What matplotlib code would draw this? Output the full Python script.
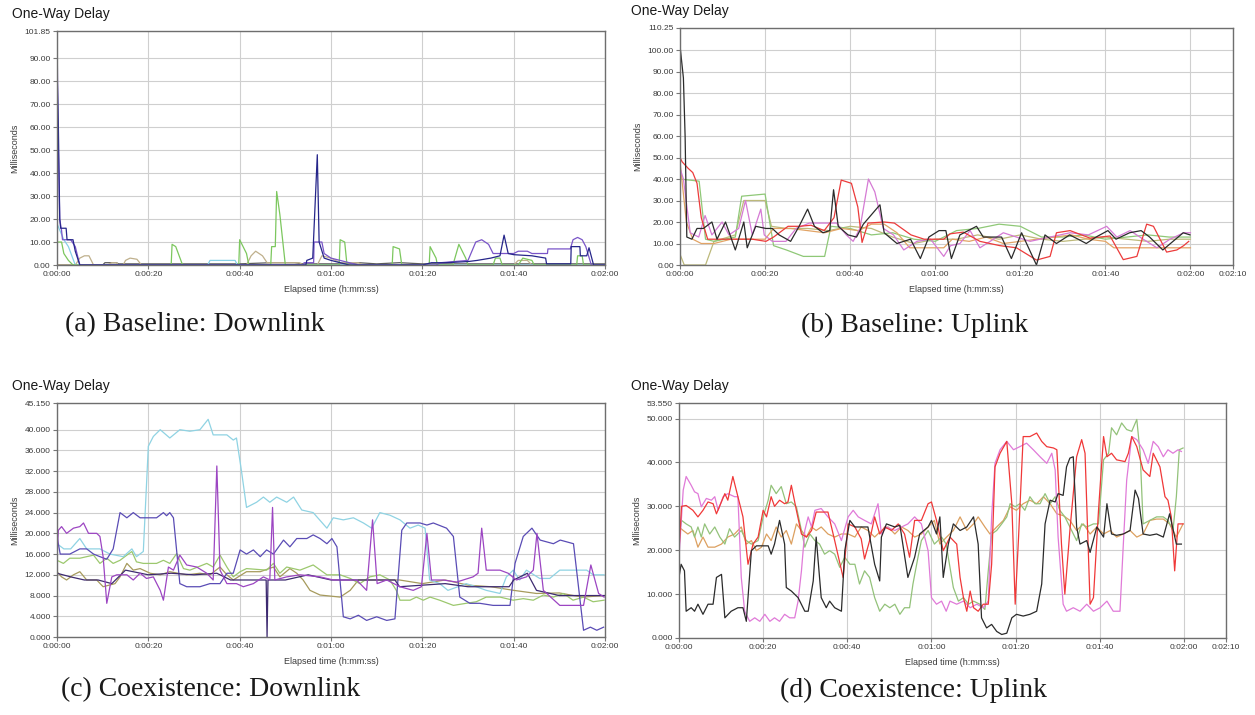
import numpy as np
import matplotlib.pyplot as plt
from matplotlib.ticker import FuncFormatter

plt.rcParams['font.family'] = ['Liberation Sans', 'DejaVu Sans']

# ---- (a) Baseline: Downlink, (time s, delay ms) ----
a_gray = [(0, 0), (10, 0), (10.5, 1), (13, 1), (13.5, 0.5), (40, 0.5), (47, 1), (52, 1),
          (54, 0.5), (64, 0.5), (66, 1), (70, 0.5), (75, 1), (80, 0.5), (120, 0.5)]
a_tan = [(0, 0), (4, 0), (5, 3), (6, 4), (7, 4), (8, 0), (11, 0), (12, 1), (13, 1), (13.5, 0),
         (14.5, 0), (15, 2), (16, 3), (17.5, 2.5), (18.5, 0), (41.5, 0), (42.5, 4), (43.5, 6),
         (45, 4), (46, 1), (53, 1), (54, 0), (57, 0), (58, 4), (60, 3), (62, 1), (66, 1),
         (67, 0), (100, 0), (101, 2), (103, 2), (104, 0), (120, 0)]
a_cyan = [(0, 18), (1.5, 11), (2.5, 8), (4, 0), (33, 0), (33.5, 2), (39, 2), (39.5, 0), (120, 0)]
a_green = [(0, 10), (1, 10), (1.5, 5), (2.5, 2), (3.5, 0), (25, 0), (25.2, 9), (26, 8),
           (27.5, 0), (39.8, 0), (40, 11), (41.5, 5), (42, 0), (46.8, 0), (47, 8), (47.8, 8),
           (48.1, 32), (48.8, 22), (50, 0), (61.8, 0), (62, 11), (63, 10), (63.5, 0),
           (73.4, 0), (73.6, 8), (75, 7), (75.5, 0), (81.5, 0), (81.7, 8), (83, 3), (83.3, 0),
           (86.7, 0), (88, 9), (89.5, 3), (90, 0), (95.5, 0), (96, 3), (97, 3), (97.5, 0),
           (101, 0), (102, 3), (104, 2), (104.5, 0), (113.8, 0), (114, 4), (115, 4),
           (115.3, 0), (120, 0)]
a_purple = [(0, 101), (0.3, 50), (0.6, 20), (1, 15), (1.2, 11), (3, 11), (4, 8), (5, 0),
            (54, 0), (54.1, 1), (56.2, 1), (56.3, 10), (58, 10), (58.5, 5), (60, 3), (62, 2),
            (64, 1), (66, 0), (83, 0), (84, 1), (90, 2), (91.7, 10), (93, 11), (94.5, 9),
            (95.5, 5), (100, 5), (101, 6), (103, 6), (104, 5), (107.4, 5), (107.5, 7),
            (112.4, 7), (113, 11), (114, 12), (115, 11), (115.8, 8), (117, 0), (120, 0)]
a_navy = [(0, 87), (0.3, 60), (0.6, 20), (0.8, 16), (2, 16), (2.2, 11), (3.5, 11), (4, 6),
          (5, 0), (54.5, 0), (54.7, 2), (56, 3), (57, 48), (57.4, 10), (58.5, 3), (60, 2),
          (62, 1), (64, 0), (80, 0), (82, 1), (85, 1), (90, 1.5), (92, 2), (95, 3), (97, 4),
          (97.9, 13), (98.8, 5), (100, 4.5), (104, 4), (107, 3), (107.2, 0.5), (112.5, 0.5),
          (112.6, 8), (114.5, 8), (114.6, 4), (116, 4), (116.5, 7.5), (117.5, 0), (120, 0)]

# ---- (b) Baseline: Uplink ----
b_khaki = [(0, 5), (1, 0), (6, 0), (8, 11), (13, 14), (15, 30), (20, 30), (21.5, 18),
           (25, 17), (30, 17), (35, 16), (40, 18), (45, 17), (50, 13), (55, 10), (60, 12),
           (65, 12), (70, 14), (75, 12), (80, 14), (85, 12), (90, 11), (95, 12), (100, 13),
           (105, 12), (110, 11), (115, 12), (120, 12)]
b_green = [(0, 40), (4.5, 39), (6, 12), (8, 11), (13, 13), (14.5, 32), (20, 33), (22, 9),
           (25, 7), (29, 4), (34, 4), (35.5, 18), (40, 17), (45, 14), (50, 15), (55, 12),
           (60, 11), (65, 16), (70, 17), (75, 19), (80, 18), (85, 13), (90, 13), (95, 14),
           (100, 12), (105, 13), (110, 14), (115, 13), (120, 13)]
b_orange = [(0, 48), (1.5, 20), (3, 12), (5, 10), (8, 10), (12, 12), (16, 12), (20, 12),
            (22, 17), (26, 17), (30, 16), (34, 15), (38, 17), (42, 16), (45, 19), (48, 19),
            (51, 15), (54, 8), (58, 8), (62, 8), (64, 12), (68, 11), (72, 13), (76, 10),
            (80, 11), (84, 12), (88, 13), (92, 14), (96, 12), (100, 11), (102, 8), (110, 8),
            (114, 8), (118, 8), (120, 8)]
b_pink = [(0, 45), (0.8, 40), (2.4, 15), (4.4, 13), (5.9, 23), (7.5, 14), (9.9, 20),
          (11.5, 14), (13.8, 17), (15.4, 30), (17, 14), (19, 26), (19.8, 14), (21.7, 11),
          (24.9, 11), (27.3, 17), (30.4, 19.5), (33.6, 19.5), (36.8, 19.5), (39.1, 14),
          (40.7, 11), (42.3, 17), (44.3, 40), (45.8, 34), (47.8, 17), (50.2, 14), (52.6, 7),
          (55.7, 11), (58.9, 12), (62, 4), (63.6, 9), (65.8, 10), (68.2, 16), (70.5, 8),
          (72.9, 11), (76, 15), (79.1, 13), (82.3, 11), (87, 13), (91.7, 15), (96, 14),
          (100.3, 18), (102.7, 13), (105.8, 16), (108.9, 12), (112.1, 8), (115.2, 12),
          (118.4, 15), (120, 15)]
b_red = [(0, 50), (0.5, 48), (1.9, 45), (3, 43), (4, 38), (5, 22), (6.5, 12), (9.6, 12),
         (13, 12), (17, 12), (20.2, 11), (22, 13), (25.4, 18), (28, 18), (30.8, 18.5),
         (33.9, 16), (36.2, 22), (37.9, 39.5), (40.3, 38), (41.8, 27), (42.8, 10.5),
         (44.2, 19.5), (48, 20), (50.4, 19.5), (54.3, 14), (57.4, 12), (62, 12), (63.5, 14.5),
         (66.6, 15.3), (70.5, 11), (75.2, 9), (79.1, 8), (83.8, 2.3), (87, 4), (88.5, 15),
         (91.7, 16), (96.4, 12.5), (101.1, 13.5), (104.2, 2.5), (107.4, 4), (109.7, 19),
         (111.3, 18), (114.4, 6), (116.8, 7), (118.4, 9), (119.6, 11)]
b_black = [(0, 102), (0.8, 87), (1.2, 60), (1.6, 13), (2.8, 12), (4, 17), (5.5, 17),
           (7.5, 20), (8.7, 12), (10.7, 20), (13, 7), (15, 20), (15.8, 8), (17.8, 18),
           (20.2, 17), (21.7, 17), (23.3, 14), (26, 11), (28, 18), (30, 26), (31.6, 18),
           (33.6, 15), (35.2, 16), (36.1, 35), (37.2, 18), (39.5, 14), (41.5, 13), (43.1, 19),
           (47, 28), (48, 15), (51, 10), (54.2, 12), (56.5, 3), (58.5, 13), (60.9, 16),
           (62.5, 16), (63.8, 3), (65.8, 14), (69.7, 18), (71.3, 13), (75.6, 13), (77.9, 3),
           (80.3, 15), (83.8, 0), (85.8, 14), (88.5, 10), (91.6, 14), (93.6, 12), (95.5, 10),
           (97.8, 13), (100.6, 16), (102.5, 12), (105.7, 15), (108.4, 16), (110.4, 13),
           (113.5, 7), (118.3, 15), (119.9, 14)]

# ---- (c) Coexistence: Downlink ----
c_olive = [(0, 12.6), (1, 11.6), (2.1, 11), (3.6, 12), (5, 12.6), (6.5, 11), (8.7, 11),
           (10.1, 9.7), (12.7, 10.3), (13.8, 11.6), (15.3, 14.2), (16.7, 12.9), (18.2, 13.2),
           (20.4, 12.3), (22.6, 12), (24.7, 12.6), (28.4, 12), (31.3, 12.3), (33.5, 12),
           (35.7, 13.5), (37.2, 12), (38.6, 11), (41.5, 12.6), (44.5, 12.6), (47.4, 13.5),
           (48.8, 11.6), (51, 13.2), (52.5, 12.3), (53.9, 11), (55.4, 9), (57.6, 8.1),
           (62, 7.7), (64.2, 9), (66, 11), (70, 11), (75, 11), (80, 10.3), (85, 11),
           (90, 10), (95, 9.7), (100, 9), (105, 8.4), (110, 8.5), (115, 7.7), (120, 8)]
c_green = [(0, 14.8), (1.4, 14.2), (2.8, 15.2), (5, 15.2), (6.5, 15.5), (8, 15.8),
           (9.4, 14.2), (10.9, 15.2), (12.3, 14.2), (13.8, 14.8), (15.3, 15.8), (16.4, 16.5),
           (17.4, 14.5), (18.9, 14.2), (21.8, 14.2), (23.3, 14.8), (24.7, 14.2), (26.2, 16.1),
           (27.7, 13.2), (29.1, 12.9), (32.8, 14.2), (34.2, 13.5), (35.7, 15.8), (37.2, 13.5),
           (38.6, 11.6), (40.1, 12.6), (41.5, 13.2), (45.9, 12.9), (47.4, 14.2), (48.8, 12.3),
           (50.3, 13.5), (53.2, 12.9), (56.1, 13.9), (59.1, 12), (62, 12), (64.2, 11.3),
           (66.3, 10.3), (68.5, 11.6), (70.7, 12), (72.9, 11), (74.3, 9), (75.1, 7.1),
           (77.3, 7.1), (78.7, 7.7), (80.2, 7.1), (81.7, 7.7), (83.8, 7.1), (86.8, 6.1),
           (89.6, 6.5), (91.8, 6.8), (94, 7.7), (97, 7.7), (99.9, 7.1), (102.1, 7.4),
           (104.3, 7.1), (106.5, 8.1), (108.7, 7.7), (110.9, 8.4), (113, 7.1), (115.3, 7.7),
           (117.4, 6.8), (119.8, 7.1)]
c_cyan = [(0, 18), (1.5, 17), (3, 17), (5, 19), (6.5, 17), (9.4, 17), (11.6, 16),
          (14.5, 15.5), (16.4, 17), (17.4, 15.5), (18.9, 16.5), (20, 36.8), (21.1, 38.7),
          (22.6, 40), (24.7, 38.4), (26.9, 40), (29.1, 39.7), (31.3, 40), (33.1, 42),
          (34.2, 39), (37.2, 39), (38.6, 38), (39.3, 38.4), (40.4, 32), (41.5, 25),
          (43.7, 26), (45.2, 27), (46.6, 26), (48.1, 27), (50.3, 26), (51.8, 27),
          (53.6, 24.5), (56.1, 24), (59.1, 21), (60.5, 23), (62.7, 22.6), (64.9, 23),
          (67.1, 22), (68.9, 21), (70.7, 24), (72.9, 23.5), (75.1, 22.6), (77.3, 21),
          (79.1, 21.6), (80.6, 21), (81.6, 11), (83.8, 10.3), (85.6, 9), (87.8, 9.7),
          (89.6, 10.3), (91.8, 9.7), (94, 9), (97, 8.4), (98.4, 11.6), (99.9, 12.9),
          (101.3, 11), (102.8, 12.9), (105.7, 11.3), (107.9, 11.3), (110.1, 12.9),
          (113, 12.9), (116, 12.9), (117.4, 12), (119.8, 12)]
c_indigo = [(0, 19.4), (0.7, 16), (2.8, 16), (5, 17), (6.5, 17), (8, 16), (9.4, 15.5),
            (10.9, 15), (12.3, 17), (13.8, 24), (15.3, 23), (16.7, 24), (18.2, 23),
            (21.8, 23), (23.3, 24), (24, 23.4), (24.7, 24), (25.5, 23), (26.9, 10.3),
            (28.4, 9.7), (31.3, 9.7), (33.5, 10.3), (35.7, 10.3), (37.2, 12.3), (38.6, 12.3),
            (40.1, 16.8), (41.5, 16), (43, 16.8), (44.5, 15.5), (45.9, 16.8), (47.4, 16),
            (49.6, 18.7), (51, 17.4), (52.5, 19), (54.7, 19), (56.1, 19.7), (57.6, 19),
            (59.1, 18), (60.2, 19), (61.3, 17.4), (62.7, 3.9), (64.2, 3.5), (66, 4.2),
            (67.8, 3.2), (70, 3.9), (72.2, 3.2), (74, 3.5), (75.5, 20.6), (76.6, 22),
            (79.5, 22), (81, 21.6), (82.4, 22), (85.3, 21), (86.8, 19.4), (88.2, 7.7),
            (90.4, 6.5), (92.6, 6.5), (95.5, 6.1), (99.2, 6.1), (100.3, 14.2), (102.1, 19.4),
            (104, 21), (105.8, 18.7), (108.7, 18), (110.2, 18.7), (113.1, 18), (115.3, 1.3),
            (116.8, 1.9), (118.2, 1.3), (119.7, 1.9)]
c_dark = [(0, 12.3), (3, 11.6), (6, 11), (9, 11), (12, 10.3), (15, 12.9), (20, 12),
          (25, 12.3), (30, 12), (35, 12.3), (38, 11), (45.8, 11), (46, 0), (46.2, 11),
          (50, 11), (55, 12), (60, 11), (65, 11), (70, 11), (74, 11), (75, 9.7), (80, 10),
          (85, 10.3), (90, 9.7), (95, 9.7), (99, 9.7), (100, 11), (103, 12.3), (105, 9),
          (110, 8), (115, 8), (120, 8)]
c_violet = [(0, 15.5), (0.3, 20.6), (1, 21.3), (2.1, 20), (3.6, 21), (5, 21.3), (5.8, 22),
            (6.9, 20), (8.7, 20), (9.4, 19.4), (10.1, 15.5), (10.9, 6.5), (12, 11.6),
            (13.1, 12), (15.3, 12), (16.7, 11), (18.2, 12.3), (19.6, 11.3), (21.1, 11.6),
            (22.6, 9), (23.3, 7.1), (24.4, 13.5), (25.5, 12.9), (26.9, 15.8), (28.4, 13.9),
            (30.6, 13.5), (32.8, 12.3), (34.2, 11), (35, 33), (35.7, 12.9), (37.2, 10.3),
            (39.3, 10.3), (40.8, 9.7), (43, 10.3), (45.2, 11.6), (46.6, 11), (47.2, 25),
            (47.7, 11), (50.3, 11.6), (53.2, 12), (57.6, 11.6), (60.5, 11), (65.6, 11),
            (67.8, 9), (69.1, 22.6), (70.1, 10.3), (72.2, 11), (75.1, 9.7), (78, 9),
            (79.8, 9.7), (81, 20), (82, 11), (84.6, 11), (87.5, 10.6), (91.1, 11.6),
            (92.2, 12.3), (93, 21), (94, 12.9), (97, 12.9), (98.8, 12.3), (100.6, 11),
            (102.8, 11.6), (104.3, 12.9), (105.1, 20), (106.5, 9), (110.1, 6.1), (115.3, 6.1),
            (116.9, 13.9), (118.6, 8.4), (119.8, 7.7)]

# ---- (d) Coexistence: Uplink ----
d_tan = [(0, 25.3), (1, 24.5), (2.1, 23.7), (3.3, 24.5), (4.5, 20.7), (5.7, 23), (6.9, 20.7),
         (8.5, 20.7), (10.1, 21.4), (11.6, 23), (13.2, 23.7), (14.8, 25.3), (16, 21.4),
         (17.2, 22.2), (18.4, 19.9), (19.6, 20.7), (20.8, 23.7), (21.9, 22.2), (23.1, 25.3),
         (24.3, 23), (25.5, 24.5), (26.7, 21.4), (27.9, 26), (29.1, 24.5), (30.3, 23),
         (31.5, 25.3), (32.6, 24.5), (33.8, 25.3), (35.4, 23.7), (37, 23), (38.6, 23.7),
         (40.2, 23.7), (41.8, 23), (43.3, 25.3), (44.9, 24.5), (46.5, 23), (48.1, 24.5),
         (49.7, 25.3), (51.3, 23.7), (52.9, 25.3), (54.4, 24.5), (56, 23), (57.6, 23.7),
         (59.2, 25.3), (60.7, 26.8), (62, 21.4), (63.6, 23), (65.2, 24.5), (66.8, 27.6),
         (68.4, 24.5), (70, 26), (71.1, 27.6), (72.7, 25.3), (73.9, 23.7), (75.5, 25.3),
         (77.1, 26.8), (78.7, 29.9), (80.2, 29.1), (81.8, 30.6), (83.4, 31.4), (85, 30.6),
         (86.6, 32.2), (88.2, 30.6), (89.8, 28.3), (91.3, 27.9), (92.9, 26.8), (94.5, 24.5),
         (96.1, 26), (97.7, 23.7), (99.3, 25.3), (100.9, 23.7), (102.5, 24.5), (104, 23),
         (105.6, 23.7), (107.2, 24.5), (108.8, 23), (110.3, 23.7), (111.9, 26.8),
         (113.5, 27.1), (115.1, 27.1), (116.6, 26), (118.2, 23), (119.8, 26)]
d_green = [(0, 23), (0.6, 26.8), (1.7, 26), (2.9, 25.3), (3.7, 23), (4.5, 25.3), (5.3, 23),
           (6.1, 26), (7.3, 23.7), (8.5, 25.3), (9.7, 23), (10.9, 21.4), (12, 24.9),
           (13.2, 23), (14.8, 24.5), (16, 22.2), (17.2, 21.4), (18.8, 22.2), (20, 27.6),
           (21.2, 31.4), (21.9, 34.8), (23.1, 32.9), (24.3, 34.5), (25.5, 30.6), (26.7, 31),
           (27.9, 29.9), (29.1, 24.5), (29.9, 20.7), (31.1, 23.7), (32.3, 22.2), (33.4, 21.4),
           (34.6, 19.1), (35.8, 19.9), (37, 19.1), (38.2, 16.1), (39.4, 18.4), (40.6, 16.8),
           (41.8, 16.8), (42.9, 12.3), (44.1, 15.3), (45.3, 13.8), (46.5, 9.2), (47.7, 6.1),
           (48.9, 7.7), (50.1, 6.9), (51.3, 7.7), (52.5, 5.4), (53.6, 6.9), (54.8, 6.9),
           (55.6, 12.3), (56.8, 18.4), (57.6, 22.2), (59.2, 24.5), (60.7, 21.4), (62.4, 23),
           (63.5, 21.4), (64, 18.4), (65.2, 11.5), (66.4, 8.4), (67.6, 9.2), (68.8, 7.7),
           (70, 8.4), (71.5, 7.7), (72.7, 6.5), (73.5, 15.3), (74.3, 23.7), (75.5, 24.5),
           (76.7, 26), (77.9, 27.6), (78.7, 30.6), (79.9, 29.9), (81, 30.6), (82.2, 29.1),
           (83.4, 32.2), (84.6, 30.6), (85.8, 30.6), (87, 32.9), (88.2, 30.6), (89.4, 32.2),
           (90.5, 29.1), (91.7, 27.6), (92.9, 25.3), (94.5, 22.2), (95.7, 26), (96.9, 25.3),
           (98.5, 26), (99.7, 26), (100.9, 40.6), (102.1, 42.1), (102.8, 47.9), (104, 46.3),
           (105.2, 49), (106.4, 47.5), (107.6, 47.1), (108.8, 49.8), (109.6, 42.1),
           (110.3, 26), (111.9, 26.8), (113.5, 27.6), (115.1, 27.6), (116.2, 26.8),
           (117.4, 24.5), (118.2, 32.2), (118.9, 42.9), (119.8, 43.3)]
d_pink = [(0, 18.4), (1, 33.7), (1.7, 36.8), (2.9, 34.8), (3.7, 33.3), (4.5, 32.9),
          (5.3, 29.9), (6.5, 31.8), (7.7, 31.4), (8.5, 32.2), (9.3, 29.1), (10.5, 32.2),
          (11.6, 32.9), (13.2, 32.2), (14, 32.2), (14.8, 13.8), (15.6, 6.1), (16.8, 3.8),
          (18, 4.6), (19.2, 3.8), (20.4, 5.4), (21.6, 3.8), (22.7, 4.6), (23.9, 3.8),
          (25.1, 5.4), (26.3, 4.6), (27.5, 4.6), (28.3, 8.4), (29.1, 15.3), (29.9, 24.5),
          (30.7, 27.6), (31.5, 25.3), (32.3, 29.1), (33.8, 29.5), (35.4, 27.6), (37, 26),
          (38.6, 22.2), (40.2, 27.6), (41.4, 29.1), (42.6, 27.6), (44.1, 26.8), (45.7, 26),
          (47.3, 30.6), (48.1, 23.7), (49.3, 25.3), (51.3, 24.5), (52.9, 25.3), (54.4, 26),
          (56, 27.6), (57.6, 26), (59.2, 19.9), (60, 9.2), (61.2, 7.7), (62.4, 8.4),
          (63.5, 6.1), (64.4, 8.4), (66, 7.7), (67.6, 8.4), (69.2, 6.9), (70.8, 7.7),
          (72.3, 6.9), (73.5, 8.4), (74.3, 27.6), (75.1, 39.8), (76.3, 42.9), (77.9, 44.8),
          (79.5, 42.9), (81, 43.6), (82.6, 44.4), (84.2, 42.9), (85.8, 41.3), (87.4, 39.8),
          (88.6, 42.1), (89.4, 38.3), (90.1, 23), (91.3, 7.7), (92.1, 6.1), (93.7, 6.9),
          (95.3, 6.1), (96.9, 7.7), (98.5, 6.1), (100.1, 6.9), (101.7, 8.4), (103.2, 6.1),
          (104.8, 6.1), (105.6, 21.4), (106.4, 36), (107.6, 45.9), (108.8, 45.2),
          (110.3, 42.9), (111.5, 39.8), (112.7, 44.8), (113.9, 43.6), (115.1, 41.3),
          (116.2, 42.9), (117.4, 42.1), (118.6, 42.9), (119.4, 42.5)]
d_red = [(0, 19.9), (0.6, 30), (1.7, 30.2), (3.3, 29.1), (4.5, 27.6), (5.7, 29.1), (6.9, 31),
         (8.1, 30.6), (8.9, 28.3), (10.9, 32.9), (11.6, 31.4), (12.8, 36.8), (14, 32.2),
         (15.2, 27.6), (16.4, 16.8), (17.6, 21.4), (18.8, 23), (20, 29.1), (20.8, 27.6),
         (21.9, 32.2), (22.7, 30), (23.9, 31.4), (25.1, 30.6), (25.9, 31), (26.7, 34.8),
         (27.9, 29.1), (29.1, 23.7), (30.3, 23), (31.5, 24.5), (32.6, 28.7), (35.4, 28.7),
         (37, 22.2), (39, 13.8), (40.2, 26), (41.8, 25.3), (43.3, 22.6), (44.1, 18),
         (45.3, 22.2), (46.5, 27.6), (47.7, 23.7), (48.9, 25.3), (50.5, 24.5), (52.1, 26),
         (53.6, 23.7), (54.8, 18.4), (56, 26.8), (57.6, 26.8), (59.2, 30.6), (60, 31),
         (61.2, 26.8), (62.8, 19.9), (64.4, 23), (66, 21.4), (66.8, 13.8), (67.6, 9.2),
         (68.4, 6.1), (69.2, 10.7), (70, 6.9), (71.1, 6.1), (72.3, 7.7), (73.5, 7.7),
         (74.3, 16.8), (75.1, 39), (76.3, 42.1), (77.9, 44.8), (79.1, 30.6), (79.9, 7.7),
         (80.7, 23), (81.8, 45.9), (83.4, 45.9), (85, 46.7), (86.2, 44.8), (87.4, 43.6),
         (89, 43.3), (89.8, 42.9), (90.9, 21.4), (91.7, 10), (92.9, 24.5), (94.5, 41.3),
         (95.7, 45.2), (96.5, 42.1), (97.7, 7.7), (98.5, 9.2), (99.7, 29.1), (100.9, 45.9),
         (101.7, 41.3), (102.8, 42.1), (104, 40.6), (106, 40.2), (106.8, 42.1),
         (107.6, 45.9), (108.8, 43.6), (110.3, 38.3), (111.9, 36.8), (112.7, 42.1),
         (114.3, 39), (115.5, 32.2), (116.2, 31.4), (117, 27.6), (117.8, 15.3), (118.6, 26),
         (119.8, 26)]
d_black = [(0, 13.8), (0.5, 16.8), (1.3, 15.3), (1.7, 6.1), (2.9, 6.9), (3.7, 6.1),
           (4.5, 7.7), (5.7, 5.4), (6.9, 7.7), (8.1, 7.7), (8.9, 13.8), (10.1, 14.5),
           (10.9, 4.6), (12.4, 6.1), (14, 6.9), (15.2, 6.9), (16, 3.8), (17.2, 19.9),
           (18.4, 21), (21.2, 21), (21.9, 19.1), (22.7, 21.4), (23.9, 26.8), (25.1, 21.4),
           (25.5, 11.5), (26.7, 10.7), (28.3, 9.2), (29.9, 6.1), (30.7, 6.1), (31.9, 13),
           (32.6, 23), (33.8, 9.2), (35, 6.9), (35.8, 8.4), (37, 6.9), (38.6, 6.1),
           (39.4, 19.9), (40.6, 26.8), (41.8, 25.3), (44.9, 25.3), (46.5, 16.8), (47.7, 13),
           (48.1, 23), (49.3, 26), (51.3, 25.3), (52.5, 25.7), (54.4, 13.8), (56, 18.4),
           (57.2, 23.7), (59.2, 25.3), (60, 26.8), (61.2, 23.7), (62, 27.6), (62.8, 13.8),
           (64, 21.4), (65.2, 26), (66.8, 24.5), (68.4, 25.3), (70, 27.6), (71.1, 21.4),
           (71.9, 4.6), (73.1, 2.3), (74.3, 3.1), (75.5, 1.5), (76.7, 0.8), (77.9, 1.1),
           (79.1, 4.6), (80.2, 5.4), (81.8, 5), (83.4, 5.4), (85, 6.1), (86.2, 12.3),
           (87, 26), (88.2, 31.4), (89.4, 31), (90.1, 32.9), (91.3, 32.5), (92.1, 39),
           (92.9, 41), (93.7, 41.3), (94.5, 25.3), (95.3, 21.4), (96.9, 22.2), (97.7, 19.5),
           (99.3, 25.3), (100.9, 23), (101.7, 30.6), (102.8, 23.7), (104, 23.4),
           (105.6, 23.7), (107.2, 24.5), (108.4, 33.7), (109.2, 31.8), (110.3, 23.7),
           (111.9, 23.4), (113.5, 23.7), (115.1, 23), (116.6, 28.3), (118.2, 21.4),
           (119.4, 21.4)]

# y ticks (top tick is the axis maximum) and x ticks in seconds
a_yticks = [0, 10, 20, 30, 40, 50, 60, 70, 80, 90, 101.85]
b_yticks = [0, 10, 20, 30, 40, 50, 60, 70, 80, 90, 100, 110.25]
c_yticks = [0, 4, 8, 12, 16, 20, 24, 28, 32, 36, 40, 45.15]
d_yticks = [0, 10, 20, 30, 40, 50, 53.55]
xticks_120 = [0, 20, 40, 60, 80, 100, 120]
xticks_130 = [0, 20, 40, 60, 80, 100, 120, 130]

W, H = 1255, 715
fig = plt.figure(figsize=(W / 100, H / 100), dpi=100)


def px_axes(left, top, right, bottom):
    return fig.add_axes([left / W, 1 - bottom / H, (right - left) / W, (bottom - top) / H])


def hms(x, pos=None):
    s = int(round(x))
    return f"{s // 3600}:{(s % 3600) // 60:02d}:{s % 60:02d}"


def style(ax, xticks, yticks, yfmt):
    ax.set_xlim(xticks[0], xticks[-1])
    ax.set_ylim(yticks[0], yticks[-1])
    ax.set_xticks(xticks)
    ax.set_yticks(yticks)
    ax.xaxis.set_major_formatter(FuncFormatter(hms))
    ax.yaxis.set_major_formatter(FuncFormatter(lambda v, p: yfmt.format(v)))
    ax.grid(True, color='#cfcfcf', lw=0.8)
    ax.set_axisbelow(True)
    for sp in ax.spines.values():
        sp.set_color('#6e6e6e')
        sp.set_linewidth(1.0)
    ax.tick_params(direction='out', length=3, width=0.8, color='#777777',
                   labelsize=6, labelcolor='#3a3a3a', pad=1.5)
    ax.set_ylabel('Milliseconds', fontsize=6.5, color='#3a3a3a', labelpad=4)
    ax.set_xlabel('Elapsed time (h:mm:ss)', fontsize=6.5, color='#3a3a3a', labelpad=5)


def draw(ax, series):
    for pts, color in series:
        t, v = zip(*pts)
        ax.plot(t, v, color=color, lw=0.9, solid_joinstyle='round')


ax_a = px_axes(57, 31, 605, 265)
style(ax_a, xticks_120, a_yticks, '{:.2f}')
draw(ax_a, [(a_gray, '#5a5a5a'), (a_tan, '#bfb08c'), (a_cyan, '#86d0e6'),
            (a_green, '#7cc75e'), (a_purple, '#7a55c8'), (a_navy, '#26268a')])

ax_b = px_axes(680, 28, 1233, 265)
style(ax_b, xticks_130, b_yticks, '{:.2f}')
draw(ax_b, [(b_khaki, '#bdb97a'), (b_green, '#8fc877'), (b_orange, '#e2a466'),
            (b_pink, '#d57ad4'), (b_red, '#ec3b3b'), (b_black, '#2b2b2b')])

ax_c = px_axes(57, 403, 605, 637)
style(ax_c, xticks_120, c_yticks, '{:.3f}')
draw(ax_c, [(c_olive, '#a69a5c'), (c_green, '#9cc86e'), (c_cyan, '#8fd3e3'),
            (c_indigo, '#5a4cb5'), (c_dark, '#3d2a70'), (c_violet, '#9c45c2')])

ax_d = px_axes(679, 403, 1226, 638)
style(ax_d, xticks_130, d_yticks, '{:.3f}')
draw(ax_d, [(d_tan, '#dca060'), (d_green, '#93c27a'), (d_pink, '#e07ad8'),
            (d_red, '#f03838'), (d_black, '#2b2b2b')])

# panel headers and captions
for x, y in [(12, 14), (631, 11), (12, 386), (631, 386)]:
    fig.text(x / W, 1 - y / H, 'One-Way Delay', fontsize=10, va='center', ha='left',
             color='#1a1a1a')

captions = [('(a) Baseline: Downlink', 195, 325), ('(b) Baseline: Uplink', 915, 325),
            ('(c) Coexistence: Downlink', 211, 690), ('(d) Coexistence: Uplink', 914, 690)]
for text, x, y in captions:
    fig.text(x / W, 1 - y / H, text, fontsize=20, family='Liberation Serif',
             ha='center', va='center', color='#1a1a1a')

fig.savefig('out.png', dpi=100)
